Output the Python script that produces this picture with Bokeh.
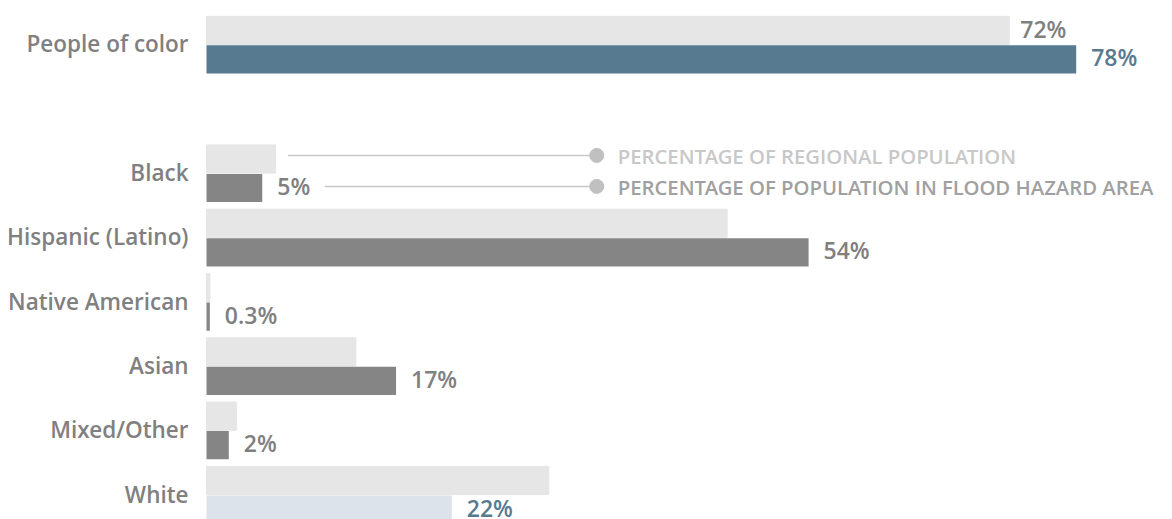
from bokeh.plotting import figure
from bokeh.models import Range1d, ColumnDataSource
from bokeh.core.properties import value
from bokeh.embed import file_html
from bokeh.resources import INLINE

categories = ["People of color", "Black", "Hispanic (Latino)", "Native American", "Asian", "Mixed/Other", "White"]
rows = [-2, 0, 1, 2, 3, 4, 5]
regional = [72, 6.2, 46.7, 0.3, 13.4, 2.7, 30.7]
flood = [78, 5, 54, 0.3, 17, 2, 22]
flood_labels = ["78%", "5%", "54%", "0.3%", "17%", "2%", "22%"]
regional_labels = ["72%"]
legend_labels = ["PERCENTAGE OF REGIONAL POPULATION", "PERCENTAGE OF POPULATION IN FLOOD HAZARD AREA"]

PX = 11.15
X0 = 206
ROW_PX = 64.3
Y0 = 173
W, H = 1172, 519

p = figure(width=W, height=H, output_backend="svg", toolbar_location=None,
           x_range=Range1d(-X0 / PX, (W - X0) / PX),
           y_range=Range1d((H - Y0) / ROW_PX, -Y0 / ROW_PX),
           min_border=0, outline_line_color=None, background_fill_color="white")
p.axis.visible = False
p.grid.visible = False

BH = 29 / ROW_PX
FONT = value("Open Sans SemiBold")
GRAY = "#808080"
BLUE = "#587a90"

flood_colors = ["#587a90"] + ["#858585"] * 5 + ["#dce3ea"]
label_colors = [BLUE] + [GRAY] * 5 + [BLUE]

src = ColumnDataSource(dict(cat=categories, row=rows, reg=regional, fl=flood,
                            reg_y=[r - BH / 2 for r in rows],
                            fl_y=[r + BH / 2 for r in rows],
                            fl_col=flood_colors, lab=flood_labels, lab_col=label_colors))

p.hbar(y="reg_y", left=0, right="reg", height=BH - 0.012, color="#e6e6e6", source=src)
p.hbar(y="fl_y", left=0, right="fl", height=BH - 0.012, fill_color="fl_col", line_color=None, source=src)

# category labels
p.text(x=0, y="row", text="cat", x_offset=-18, y_offset=-1, text_align="right",
       text_baseline="middle", text_font=FONT,
       text_font_size="22.5px", text_color=GRAY, source=src)

# flood value labels
p.text(x="fl", y="fl_y", text="lab", x_offset=15, y_offset=-2, text_align="left",
       text_baseline="middle", text_font=FONT,
       text_font_size="23px", text_color="lab_col", source=src)

# regional label for people of color
p.text(x=[regional[0]], y=[rows[0] - BH / 2], text=regional_labels, x_offset=11, y_offset=-1,
       text_align="left", text_baseline="middle", text_font=FONT,
       text_font_size="23px", text_color=GRAY)

# legend callouts next to Black row
leg_end = 35.0
leg_start = [regional[1] + 1.1, flood[1] + 5.6]
leg_y = [rows[1] - BH / 2 - 0.055, rows[1] + BH / 2 - 0.025]
p.segment(x0=leg_start, y0=leg_y, x1=[leg_end, leg_end], y1=leg_y, line_color="#c8c8c8", line_width=1.5)
p.scatter(x=[leg_end, leg_end], y=leg_y, size=14, color="#c0c0c0")
p.text(x=[leg_end, leg_end], y=leg_y, text=legend_labels, x_offset=21, y_offset=1,
       text_align="left", text_baseline="middle", text_font=FONT,
       text_font_size="20.3px", text_color=["#c8c8c8", "#a0a0a0"])

open("out.html", "w").write(file_html(p, INLINE))
